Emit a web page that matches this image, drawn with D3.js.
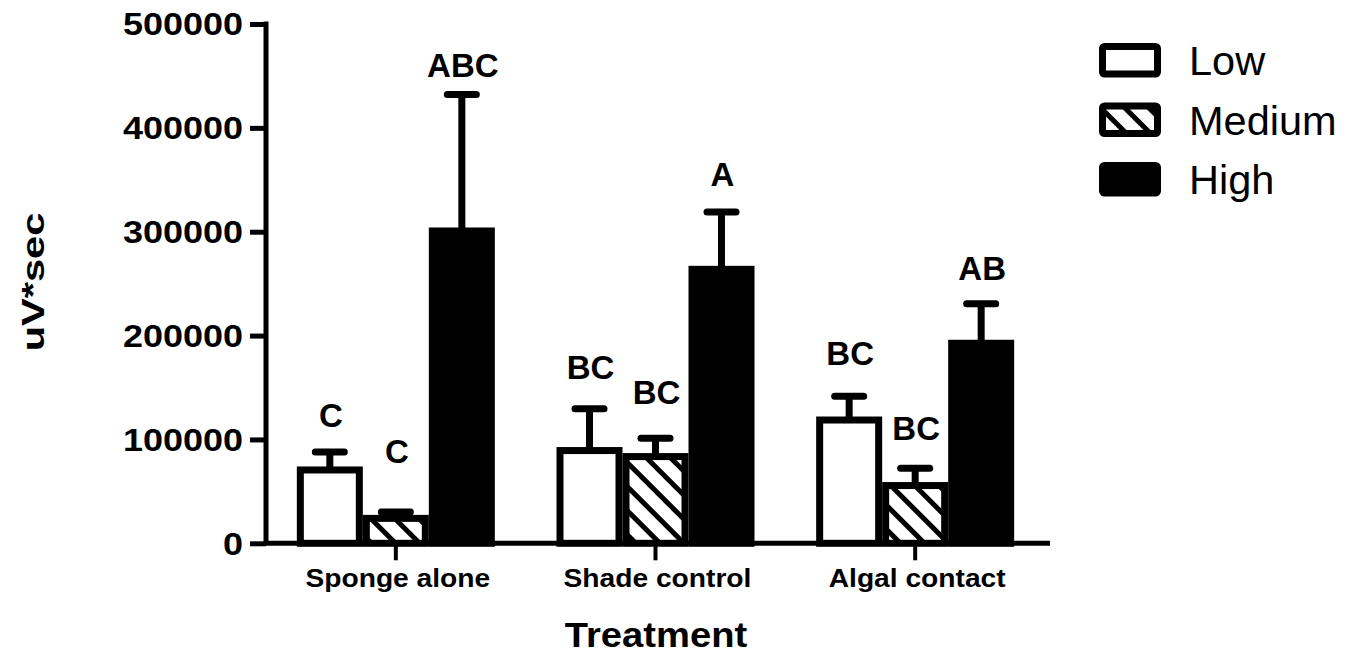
<!DOCTYPE html>
<html>
<head>
<meta charset="utf-8">
<script src="https://cdn.jsdelivr.net/npm/d3@7"></script>
<style>
  body { margin: 0; background: #fff; }
  text { font-family: "Liberation Sans", Arial, Helvetica, sans-serif; fill: #000; }
</style>
</head>
<body>
<svg id="chart" width="1355" height="656"></svg>
<script>
// ---- data ----
const treatments = ["Sponge alone", "Shade control", "Algal contact"];
const levels = ["Low", "Medium", "High"];
const meanLow = [70600, 89300, 118700];
const meanMedium = [24000, 83500, 55600];
const meanHigh = [300700, 263800, 192600];
const semLow = [17300, 40300, 22800];
const semMedium = [6100, 17600, 16600];
const semHigh = [131300, 55200, 38100];
const letterLow = ["C", "BC", "BC"];
const letterMedium = ["C", "BC", "BC"];
const letterHigh = ["ABC", "A", "AB"];
const yTicks = [0, 100000, 200000, 300000, 400000, 500000];
const yTitle = "uV*sec";
const xTitle = "Treatment";

// ---- layout ----
const FONT = '"Liberation Sans", Arial, Helvetica, sans-serif';
const axisX = 266, baseY = 543.3, topY = 24;
const barW = 66, barStroke = 7;
// gap (px) between each error cap and the baseline of its letter label
const letterGap = [[25, 49, 18], [30, 34, 26], [31, 28, 24]];

const svg = d3.select("#chart");

const x = d3.scaleBand().domain(treatments).range([axisX, 1045]).padding(0);
const sub = d3.scaleBand().domain(levels).range([-barW * 1.5, barW * 1.5]).padding(0);
const y = d3.scaleLinear().domain([0, 500000]).range([baseY, topY]);

// stretch text horizontally to its drawn width
function widen(sel, f) {
  sel.each(function () {
    const w = this.getComputedTextLength();
    d3.select(this).attr("textLength", w * f).attr("lengthAdjust", "spacingAndGlyphs");
  });
}

// diagonal hatch for the Medium series
const defs = svg.append("defs");
const pat = defs.append("pattern")
  .attr("id", "hatch")
  .attr("patternUnits", "userSpaceOnUse")
  .attr("width", 17).attr("height", 17)
  .attr("patternTransform", "rotate(45)");
pat.append("rect").attr("width", 17).attr("height", 17).attr("fill", "#fff");
pat.append("rect").attr("x", 0).attr("y", 0).attr("width", 17).attr("height", 5).attr("fill", "#000");

const fills = { Low: "#fff", Medium: "url(#hatch)", High: "#000" };

const rows = [];
treatments.forEach((t, i) => {
  [[meanLow, semLow, letterLow], [meanMedium, semMedium, letterMedium], [meanHigh, semHigh, letterHigh]]
    .forEach(([m, s, l], j) => {
      rows.push({ t, level: levels[j], mean: m[i], sem: s[i], letter: l[i], gap: letterGap[i][j] });
    });
});

const cx = d => x(d.t) + x.bandwidth() / 2 + sub(d.level) + barW / 2;

// bars
svg.append("g").selectAll("rect").data(rows).join("rect")
  .attr("x", d => cx(d) - barW / 2 + barStroke / 2)
  .attr("width", barW - barStroke)
  .attr("y", d => y(d.mean))
  .attr("height", d => baseY - y(d.mean))
  .attr("fill", d => fills[d.level])
  .attr("stroke", "#000")
  .attr("stroke-width", barStroke);

// error bars (upper only)
const eb = svg.append("g").attr("stroke", "#000").attr("stroke-width", 7);
eb.selectAll("line.v").data(rows).join("line").attr("class", "v")
  .attr("x1", cx).attr("x2", cx)
  .attr("y1", d => y(d.mean)).attr("y2", d => y(d.mean + d.sem));
eb.selectAll("line.c").data(rows).join("line").attr("class", "c")
  .attr("stroke-linecap", "round")
  .attr("x1", d => cx(d) - 14.5).attr("x2", d => cx(d) + 14.5)
  .attr("y1", d => y(d.mean + d.sem)).attr("y2", d => y(d.mean + d.sem));

// significance letters
svg.append("g").selectAll("text").data(rows).join("text")
  .attr("x", d => cx(d) + 1)
  .attr("y", d => y(d.mean + d.sem) - d.gap)
  .attr("text-anchor", "middle")
  .attr("font-size", 33).attr("font-weight", "bold")
  .text(d => d.letter);

// y axis
const yAxis = d3.axisLeft(y).tickValues(yTicks).tickSize(16).tickSizeOuter(0)
  .tickPadding(7).tickFormat(d3.format("d"));
const gy = svg.append("g").attr("transform", `translate(${axisX},0)`).call(yAxis);
gy.select(".domain").remove();
gy.selectAll(".tick line").attr("stroke", "#000").attr("stroke-width", 5);
gy.selectAll(".tick text")
  .attr("font-family", FONT).attr("font-size", 31).attr("font-weight", "bold")
  .attr("fill", "#000").attr("dy", "0.35em")
  .call(widen, 1.16);
svg.append("line")
  .attr("x1", axisX).attr("x2", axisX)
  .attr("y1", topY - 2.5).attr("y2", baseY)
  .attr("stroke", "#000").attr("stroke-width", 5);

// x axis
svg.append("line")
  .attr("x1", axisX).attr("x2", 1050)
  .attr("y1", baseY).attr("y2", baseY)
  .attr("stroke", "#000").attr("stroke-width", 5);
const gx = svg.append("g");
gx.selectAll("line").data(treatments).join("line")
  .attr("x1", d => x(d) + x.bandwidth() / 2).attr("x2", d => x(d) + x.bandwidth() / 2)
  .attr("y1", baseY).attr("y2", baseY + 17)
  .attr("stroke", "#000").attr("stroke-width", 4);
gx.selectAll("text").data(treatments).join("text")
  .attr("x", d => x(d) + x.bandwidth() / 2 + 2)
  .attr("y", 587)
  .attr("text-anchor", "middle")
  .attr("font-size", 26.5).attr("font-weight", "bold")
  .text(d => d)
  .call(widen, 1.063);

// axis titles
svg.append("text")
  .attr("transform", "translate(44,282) rotate(-90)")
  .attr("text-anchor", "middle")
  .attr("font-size", 32).attr("font-weight", "bold")
  .text(yTitle)
  .call(widen, 1.3);
svg.append("text")
  .attr("x", 656).attr("y", 647)
  .attr("text-anchor", "middle")
  .attr("font-size", 35).attr("font-weight", "bold")
  .text(xTitle)
  .call(widen, 1.09);

// legend
const leg = svg.append("g").selectAll("g").data(levels).join("g")
  .attr("transform", (d, i) => `translate(1099,${43 + i * 59.5})`);
leg.append("rect")
  .attr("x", 3.5).attr("y", 3.5).attr("width", 55).attr("height", 27.5)
  .attr("rx", 2)
  .attr("fill", d => fills[d]).attr("stroke", "#000").attr("stroke-width", 7);
leg.append("text")
  .attr("x", 90).attr("y", 32)
  .attr("font-size", 41.5)
  .text(d => d);
</script>
</body>
</html>
